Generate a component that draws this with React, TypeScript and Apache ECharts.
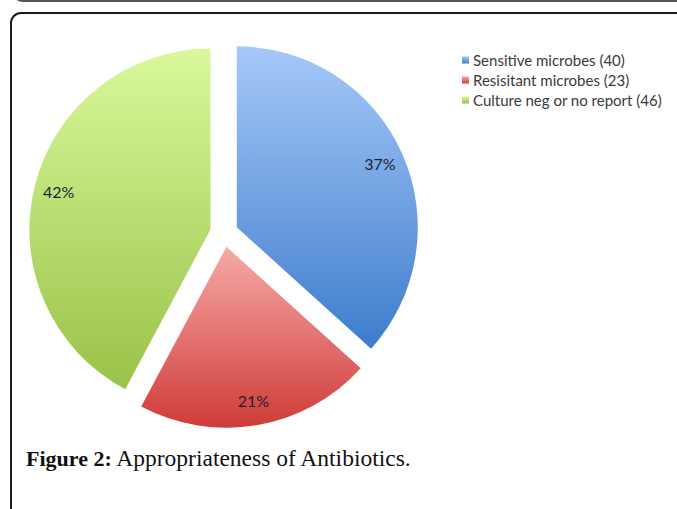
import React, { useEffect, useRef } from "react";
import * as echarts from "echarts";

const categories = [
  "Sensitive microbes (40)",
  "Resisitant microbes (23)",
  "Culture neg or no report (46)",
];
const values = [40, 23, 46];
const topColors = ["#a6c8f8", "#f6aaa8", "#daf89c"];
const bottomColors = ["#3d7ccc", "#cf3b37", "#99c248"];
const captionBold = "Figure 2:";
const captionText = " Appropriateness of Antibiotics.";

function grad(i: number) {
  return new echarts.graphic.LinearGradient(0, 0, 0, 1, [
    { offset: 0, color: topColors[i] },
    { offset: 1, color: bottomColors[i] },
  ]);
}

export default function App() {
  const ref = useRef<HTMLDivElement>(null);
  useEffect(() => {
    if (!ref.current) return;
    const chart = echarts.init(ref.current, null, { renderer: "svg" });
    const center = [224, 233];
    const offset = 14;
    chart.setOption({
      animation: false,
      backgroundColor: "#ffffff",
      legend: {
        orient: "vertical",
        left: 457,
        top: 47.5,
        itemWidth: 7,
        itemHeight: 7,
        itemGap: 5,
        icon: "rect",
        data: categories,
        selectedMode: false,
        textStyle: { fontFamily: "Lato", fontSize: 15, color: "#3a3a3a", padding: [0, 0, 0, -1] },
      },
      graphic: [
        {
          type: "rect",
          shape: { x: 13, y: -60, width: 720, height: 61, r: 10 },
          style: { fill: "none", stroke: "#555", lineWidth: 2 },
          z: 10,
        },
        {
          type: "rect",
          shape: { x: 11, y: 13, width: 720, height: 560, r: 10 },
          style: { fill: "none", stroke: "#1a1a1a", lineWidth: 2 },
          z: 10,
        },
        {
          type: "text",
          x: 26,
          y: 458,
          style: {
            text: "{b|" + captionBold + "}{n|" + captionText + "}",
            fontFamily: "Liberation Serif",
            fontSize: 23,
            fill: "#111",
            textVerticalAlign: "middle",
            rich: {
              b: { fontFamily: "Liberation Serif", fontSize: 22, fontWeight: "bold", fill: "#111" },
              n: { fontFamily: "Liberation Serif", fontSize: 23.5, fill: "#111" },
            },
          },
          z: 10,
        },
      ],
      series: [
        {
          type: "pie",
          name: "main",
          center,
          radius: 181,
          startAngle: 90,
          clockwise: true,
          selectedMode: "multiple",
          selectedOffset: offset,
          avoidLabelOverlap: false,
          label: { show: false },
          labelLine: { show: false },
          emphasis: { disabled: true },
          select: { itemStyle: { borderWidth: 0 } },
          data: categories.map((c, i) => ({
            name: c,
            value: values[i],
            selected: true,
            itemStyle: { color: grad(i) },
          })),
        },
        {
          type: "pie",
          name: "labels",
          center,
          radius: [126, 181],
          startAngle: 90,
          clockwise: true,
          silent: true,
          selectedMode: "multiple",
          selectedOffset: offset,
          avoidLabelOverlap: false,
          labelLine: { show: false },
          emphasis: { disabled: true },
          select: { itemStyle: { borderWidth: 0, color: "rgba(0,0,0,0)" } },
          itemStyle: { color: "rgba(0,0,0,0)" },
          label: {
            show: true,
            position: "inside",
            fontFamily: "Lato",
            fontSize: 16,
            color: "#1d1d33",
            formatter: (p: any) => Math.round(p.percent) + "%",
          },
          data: categories.map((c, i) => ({
            name: c,
            value: values[i],
            selected: true,
          })),
        },
      ],
    });
    return () => chart.dispose();
  }, []);
  return (
    <div
      ref={ref}
      style={{ position: "fixed", left: 0, top: 0, width: 677, height: 509, background: "#fff" }}
    />
  );
}
